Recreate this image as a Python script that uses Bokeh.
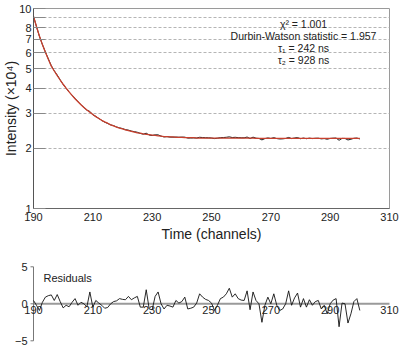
import math
from bokeh.plotting import figure
from bokeh.models import FixedTicker, Range1d, Label, ColumnDataSource
from bokeh.embed import file_html
from bokeh.resources import INLINE
from bokeh.core.properties import value

# ---------------- data ----------------
channels = list(range(190, 301))

fit_intensity = [
    9.13, 8.13, 7.28, 6.60, 6.05, 5.57, 5.15, 4.87, 4.62, 4.39,
    4.18, 4.00, 3.83, 3.68, 3.54, 3.42, 3.30, 3.20, 3.11, 3.03,
    2.95, 2.88, 2.82, 2.76, 2.71, 2.67, 2.62, 2.59, 2.55, 2.52,
    2.50, 2.47, 2.45, 2.43, 2.41, 2.39, 2.38, 2.36, 2.35, 2.34,
    2.33, 2.32, 2.31, 2.30, 2.29, 2.29, 2.28, 2.28, 2.27, 2.27,
    2.27, 2.26, 2.26, 2.26, 2.26, 2.25, 2.25, 2.25, 2.25, 2.25,
    2.25, 2.25, 2.25, 2.25, 2.25, 2.25, 2.25, 2.25, 2.25, 2.25,
    2.25, 2.25, 2.25, 2.25, 2.25, 2.24, 2.24, 2.24, 2.24, 2.24,
    2.24, 2.24, 2.24, 2.24, 2.24, 2.24, 2.24, 2.24, 2.24, 2.24,
    2.24, 2.24, 2.24, 2.24, 2.24, 2.24, 2.24, 2.24, 2.24, 2.24,
    2.24, 2.24, 2.24, 2.24, 2.24, 2.24, 2.24, 2.24, 2.24, 2.24,
    2.24,
]

residuals = [
    0.45, -0.2, -0.9, 0.2, 0.9, 1.1, 1.2, 0.45, 1.25, 0.3,
    -0.55, -0.2, -0.4, 0.2, 0.7, -0.2, 0.2, 0.0, -0.4, 1.6,
    -0.45, 0.45, 0.1, -0.2, -0.6, -0.5, 0.0, 0.3, 0.4, 0.7,
    0.6, 0.55, 1.0, 0.55, 0.8, 1.0, -0.45, -0.45, 1.9, -0.7,
    -0.8, 1.0, 1.6, 0.0, -0.7, -0.2, -0.3, -0.45, 0.45, 0.1,
    0.3, 0.9, -0.7, -0.6, -0.45, 0.1, 1.35, 0.9, 0.6, 0.45,
    0.1, -0.9, -0.2, 0.7, 0.9, 1.35, 2.1, 0.9, 1.35, 0.7,
    0.5, 0.45, 1.75, -0.8, 1.6, 0.45, 0.0, -2.5, -0.2, 0.9,
    0.0, 1.35, -0.2, -0.9, -0.7, 0.0, 1.75, -0.2, 0.8, 1.45,
    -0.45, 0.7, -0.45, 0.55, -0.2, 0.3, 0.45, -0.7, -0.2, -1.35,
    0.0, 0.5, 0.7, -3.1, 0.1, 0.0, -2.6, -1.35, 0.3, 0.7,
    -0.9,
]

# measured counts = fit + weighted residual * Poisson sigma (in units of 1e4)
data_intensity = [f + r * (f * 1e4) ** 0.5 / 1e4 for f, r in zip(fit_intensity, residuals)]

x_ticks = [190, 210, 230, 250, 270, 290, 310]
x_tick_labels = ["190", "210", "230", "250", "270", "290", "310"]
y_ticks = [1, 2, 3, 4, 5, 6, 7, 8, 9, 10]
y_tick_labels = ["1", "2", "3", "4", "5", "6", "7", "8", "", "10"]
res_ticks = [-5, 0, 5]
res_tick_labels = ["\u22125", "0", "5"]

stats_lines = ["\u03c7\u00b2 = 1.001", "Durbin-Watson statistic = 1.957",
               "\u03c4\u2081 = 242 ns", "\u03c4\u2082 = 928 ns"]

FONT = "Liberation Sans"
TXT = "#222222"

# layout constants (pixels)
W = 400
FRAME_L, FRAME_R = 33, 389
X0, X1 = x_ticks[0], x_ticks[-1]

# ---------------- main decay plot ----------------
p = figure(width=W, height=250, x_range=Range1d(X0, X1), y_range=Range1d(1, 10),
           y_axis_type="log", output_backend="svg", toolbar_location=None,
           min_border_left=FRAME_L, min_border_right=W - FRAME_R, min_border_top=8,
           min_border_bottom=42)
p.background_fill_color = "white"
p.border_fill_color = "white"
p.outline_line_color = "#9a9a9a"

p.xgrid.visible = False
p.ygrid.ticker = FixedTicker(ticks=y_ticks[1:-1])
p.ygrid.grid_line_color = "#b5b5b5"
p.ygrid.grid_line_dash = "3 2"
p.ygrid.grid_line_width = 1

xa = p.xaxis[0]
xa.ticker = FixedTicker(ticks=x_ticks)
xa.major_label_overrides = {t: l for t, l in zip(x_ticks, x_tick_labels)}
xa.major_tick_in = 0
xa.major_tick_out = 0
xa.minor_tick_line_color = None
xa.axis_line_color = "#666666"
xa.major_label_text_font = FONT
xa.major_label_text_font_size = "11px"
xa.major_label_text_color = TXT
xa.major_label_standoff = 4
xa.axis_label = "Time (channels)"
xa.axis_label_text_font = FONT
xa.axis_label_text_font_size = "14px"
xa.axis_label_text_font_style = "normal"
xa.axis_label_text_color = TXT
xa.axis_label_standoff = 2

ya = p.yaxis[0]
ya.ticker = FixedTicker(ticks=y_ticks)
ya.major_label_overrides = {t: l for t, l in zip(y_ticks, y_tick_labels)}
ya.major_tick_in = 12
ya.major_tick_out = 0
ya.major_tick_line_color = "#888888"
ya.minor_tick_line_color = None
ya.axis_line_color = "#555555"
ya.major_label_text_font = FONT
ya.major_label_text_font_size = "11px"
ya.major_label_text_color = TXT
ya.major_label_standoff = 2
ya.axis_label = "Intensity (\u00d710\u2074)"
ya.axis_label_text_font = FONT
ya.axis_label_text_font_size = "14px"
ya.axis_label_text_font_style = "normal"
ya.axis_label_text_color = TXT
ya.axis_label_standoff = -3

src = ColumnDataSource(dict(ch=channels, data=data_intensity, fit=fit_intensity))
p.line("ch", "data", source=src, line_color="#1a1a1a", line_width=1)
p.line("ch", "fit", source=src, line_color="#c8402e", line_width=1.3)

for i, txt in enumerate(stats_lines):
    p.add_layout(Label(x=270, y=185 - 12 * i, x_units="screen", y_units="screen",
                       text=txt, text_align="center", text_baseline="middle",
                       text_font=FONT, text_font_size="10.5px", text_color=TXT))

# ---------------- residual plot (frame covers the whole panel) ----------------
RH = 100
ZERO_PX = 53.3        # zero line, px from panel top
PX_PER_UNIT = 7.4     # residual units -> px
k = (X1 - X0) / (FRAME_R - FRAME_L)
r = figure(width=W, height=RH,
           x_range=Range1d(X0 - FRAME_L * k, X1 + (W - FRAME_R) * k),
           y_range=Range1d(-(RH - ZERO_PX) / PX_PER_UNIT, ZERO_PX / PX_PER_UNIT),
           output_backend="svg", toolbar_location=None,
           x_axis_location=None, y_axis_location=None,
           min_border_left=0, min_border_right=0, min_border_top=0, min_border_bottom=0)
r.outline_line_color = None
r.grid.visible = False
r.background_fill_color = "white"
r.border_fill_color = "white"

# zero line (x axis of the residual panel)
r.segment(x0=[X0], x1=[X1], y0=[0], y1=[0], line_color="#9a9a9a", line_width=2)
# left axis line, ticks and labels
r.segment(x0=[X0], x1=[X0], y0=[res_ticks[0]], y1=[res_ticks[-1]],
          line_color="#777777", line_width=1)
r.ray(x=[X0] * len(res_ticks), y=res_ticks, length=3, length_units="screen",
      angle=math.pi, line_color="#777777", line_width=1)
r.text(x=[X0] * len(res_ticks), y=res_ticks, text=res_tick_labels, x_offset=-6,
       text_align="right", text_baseline="middle", text_font=value(FONT),
       text_font_size="11px", text_color=TXT)

rsrc = ColumnDataSource(dict(ch=channels, res=residuals))
r.line("ch", "res", source=rsrc, line_color="#111111", line_width=0.9, line_join="round")

r.text(x=x_ticks, y=[0] * len(x_ticks), text=x_tick_labels, y_offset=2,
       text_align="center", text_baseline="top", text_font=value(FONT),
       text_font_size="11px", text_color=TXT)
r.add_layout(Label(x=43, y=RH - 27, x_units="screen", y_units="screen", text="Residuals",
                   text_align="left", text_baseline="middle", text_font=FONT,
                   text_font_size="11px", text_color=TXT))

open("out.html", "w").write(file_html([p, r], INLINE))
